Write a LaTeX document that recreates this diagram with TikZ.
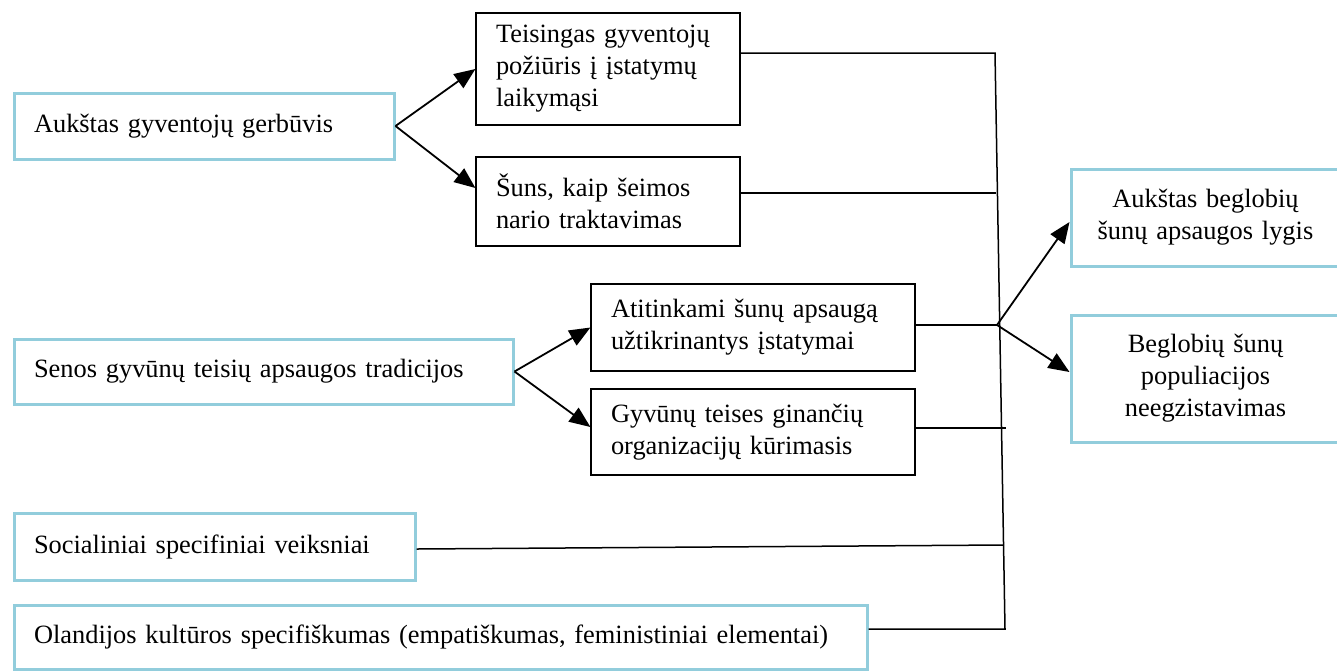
\documentclass[tikz,border=0pt]{standalone}
\usepackage{fontspec}
\setmainfont{Liberation Serif}
\usetikzlibrary{arrows.meta}
\definecolor{boxblue}{RGB}{146,205,220}
\begin{document}
\begin{tikzpicture}[x=0.5pt,y=-0.5pt,
  font=\fontsize{13.2}{16}\selectfont,
  bluebox/.style={draw=boxblue, line width=1.5pt, inner xsep=10pt, inner ysep=0pt, align=left},
  blackbox/.style={draw=black, line width=0.6pt, inner xsep=10pt, inner ysep=0pt, align=left},
  conn/.style={line width=0.75pt},
  arr/.style={line width=0.9pt, -{Triangle[length=10.5pt,width=8.5pt]}}]
\useasboundingbox (0,0) rectangle (1337,671);

\node[bluebox, minimum width=190pt, minimum height=33pt, text width=170pt] (A) at (204,126) {Aukštas gyventojų gerbūvis};
\node[blackbox, minimum width=132pt, minimum height=56pt, text width=112pt] (T1) at (608,69) {Teisingas gyventojų\\požiūris į įstatymų\\laikymąsi};
\node[blackbox, minimum width=132pt, minimum height=44.5pt, text width=112pt] (T2) at (608,201.5) {Šuns, kaip šeimos\\nario traktavimas};
\node[bluebox, minimum width=249.5pt, minimum height=32.5pt, text width=229.5pt] (S) at (263.5,371.5) {Senos gyvūnų teisių apsaugos tradicijos};
\node[blackbox, minimum width=162pt, minimum height=43.5pt, text width=142pt] (A1) at (753,327.5) {Atitinkami šunų apsaugą\\užtikrinantys įstatymai};
\node[blackbox, minimum width=162pt, minimum height=43pt, text width=142pt] (A2) at (753,432) {Gyvūnų teises ginančių\\organizacijų kūrimasis};
\node[bluebox, minimum width=200.5pt, minimum height=33.5pt, text width=180.5pt] (Soc) at (214.5,546.5) {Socialiniai specifiniai veiksniai};
\node[bluebox, minimum width=426.5pt, minimum height=32pt, text width=406.5pt] (Ol) at (440.5,637) {\mbox{Olandijos kultūros specifiškumas (empatiškumas, feministiniai elementai)}};
\node[bluebox, align=center, minimum width=134.5pt, minimum height=48.5pt, text width=114.5pt] (R1) at (1205.5,217.5) {Aukštas beglobių\\šunų apsaugos lygis};
\node[bluebox, align=center, minimum width=134.5pt, minimum height=63.5pt, text width=114.5pt] (R2) at (1205.5,378.5) {Beglobių šunų\\populiacijos\\neegzistavimas};

\coordinate (vtop) at (995,53);
\coordinate (vbot) at (1005,629);
\coordinate (j2) at (995.5,193);
\coordinate (j) at (997,325);
\coordinate (j4) at (1006,428);
\coordinate (j5) at (1003,545);

\draw[conn] (vtop -| T1.east) -- (vtop) -- (vbot) -- (vbot -| Ol.east);
\draw[conn] (j2 -| T2.east) -- (j2);
\draw[conn] (j -| A1.east) -- (j);
\draw[conn] (j4 -| A2.east) -- (j4);
\draw[conn] ([yshift=-1.25pt]Soc.east) -- (j5);

\draw[arr] (A.east) -- (T1.west);
\draw[arr] (A.east) -- ([yshift=6.75pt]T2.west);
\draw[arr] (S.east) -- (A1.west);
\draw[arr] (S.east) -- ([yshift=2.5pt]A2.west);
\draw[arr] (j) -- ([yshift=-2.25pt]R1.west);
\draw[arr] (j) -- ([yshift=3.25pt]R2.west);
\end{tikzpicture}
\end{document}
